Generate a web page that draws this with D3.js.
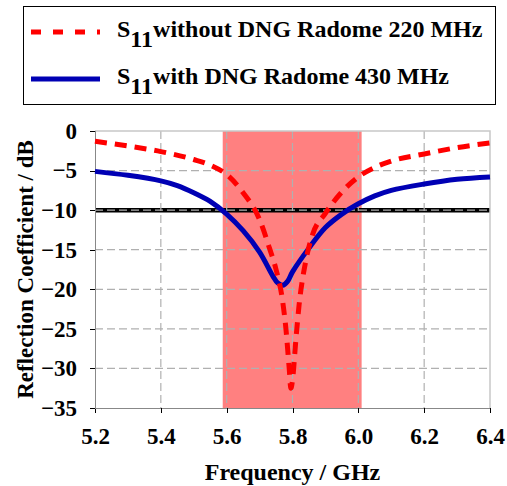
<!DOCTYPE html>
<meta charset="utf-8">
<style>
body { margin: 0; background: #fff; }
text { font-family: "Liberation Serif", "Times New Roman", Times, serif; font-weight: bold; fill: #000; }
.grid line { stroke: #b0b0b0; stroke-width: 1.2px; stroke-dasharray: 8,4; }
.axis path, .axis line { stroke: #888; shape-rendering: crispEdges; }
.axis text { font-size: 23px; font-family: "Liberation Serif", "Times New Roman", Times, serif; }
</style>
<body>
<script src="https://d3js.org/d3.v7.min.js"></script>
<script>

// frequencies (GHz) and S11 (dB)
var freqNoRadome = [5.20, 5.30, 5.40, 5.50, 5.55, 5.60, 5.65, 5.70, 5.73, 5.75, 5.77, 5.78, 5.79, 5.795,
                    5.80, 5.81, 5.82, 5.84, 5.86, 5.90, 5.95, 6.00, 6.05, 6.10, 6.20, 6.30, 6.40];
var s11NoRadome  = [-1.3, -1.9, -2.6, -3.6, -4.3, -5.5, -7.8, -11.2, -14.8, -17.5, -21.5, -25, -30, -32.5,
                    -31.5, -26.5, -22, -16.5, -13.2, -10.4, -7.7, -5.8, -4.6, -3.8, -2.9, -2.1, -1.5];

var freqRadome = [5.20, 5.30, 5.40, 5.45, 5.50, 5.55, 5.60, 5.65, 5.70, 5.74, 5.755, 5.77, 5.785, 5.80,
                  5.85, 5.90, 5.95, 6.00, 6.05, 6.10, 6.20, 6.30, 6.40];
var s11Radome  = [-5.1, -5.6, -6.3, -6.9, -7.8, -8.9, -10.5, -12.6, -15.3, -18.3, -19.2, -19.5, -19.0, -17.8,
                  -14.8, -12.2, -10.5, -9.2, -8.2, -7.5, -6.7, -6.1, -5.8];

var xTicks = [5.2, 5.4, 5.6, 5.8, 6.0, 6.2, 6.4];
var yTicks = [0, -5, -10, -15, -20, -25, -30, -35];
var band = [5.588, 6.01];      // shaded bandwidth
var threshold = -10;

var legendLabels = [
  {sub: "11", text: "without DNG Radome 220 MHz"},
  {sub: "11", text: "with DNG Radome 430 MHz"}
];

var margin = {top: 131, right: 17, bottom: 78, left: 95},
    width = 507 - margin.left - margin.right,
    height = 486 - margin.top - margin.bottom;

var svg = d3.select("body").append("svg")
    .attr("width", 507)
    .attr("height", 486);

var g = svg.append("g")
    .attr("transform", "translate(" + margin.left + "," + margin.top + ")");

var x = d3.scaleLinear().domain([5.2, 6.4]).range([0, width]);
var y = d3.scaleLinear().domain([-35, 0]).range([height, 0]);

// shaded band
g.append("rect")
    .attr("x", x(band[0]))
    .attr("y", 0)
    .attr("width", x(band[1]) - x(band[0]))
    .attr("height", height)
    .attr("fill", "#ff8080");

// -10 dB line
g.append("line")
    .attr("x1", 0).attr("x2", width)
    .attr("y1", y(threshold)).attr("y2", y(threshold))
    .attr("stroke", "#000")
    .attr("stroke-width", 4.5);

// grid
g.append("g").attr("class", "grid")
  .selectAll("line").data(xTicks.slice(1, -1)).enter().append("line")
    .attr("x1", function(d) { return x(d); }).attr("x2", function(d) { return x(d); })
    .attr("y1", 0).attr("y2", height);

g.append("g").attr("class", "grid")
  .selectAll("line").data(yTicks.slice(1, -1)).enter().append("line")
    .attr("x1", 0).attr("x2", width)
    .attr("y1", function(d) { return y(d); }).attr("y2", function(d) { return y(d); });

// plot frame top / right
g.append("path")
    .attr("d", "M0,0H" + width + "V" + height)
    .attr("fill", "none")
    .attr("stroke", "#c8c8c8")
    .attr("stroke-width", 1.5);

// axes
g.append("g")
    .attr("class", "axis")
    .attr("transform", "translate(0," + height + ")")
    .call(d3.axisBottom(x).tickValues(xTicks).tickFormat(d3.format(".1f")).tickSizeOuter(0).tickSize(5).tickPadding(15));

g.append("g")
    .attr("class", "axis")
    .call(d3.axisLeft(y).tickValues(yTicks).tickFormat(d3.format("d")).tickSizeOuter(0).tickSize(5).tickPadding(13));

g.selectAll(".axis text").style("fill", "#000");
g.selectAll(".axis .tick line").style("stroke", "#000");

// curves
var line = d3.line()
    .x(function(d) { return x(d[0]); })
    .y(function(d) { return y(d[1]); })
    .curve(d3.curveMonotoneX);

g.append("path")
    .datum(d3.zip(freqRadome, s11Radome))
    .attr("fill", "none")
    .attr("stroke", "#0000b4")
    .attr("stroke-width", 5)
    .attr("stroke-linejoin", "round")
    .attr("d", line.curve(d3.curveCatmullRom.alpha(0.5)));

g.append("path")
    .datum(d3.zip(freqNoRadome, s11NoRadome))
    .attr("fill", "none")
    .attr("stroke", "#ff0000")
    .attr("stroke-width", 5)
    .attr("stroke-dasharray", "12,8")
    .attr("d", line.curve(d3.curveMonotoneX));

// axis titles
svg.append("text")
    .attr("x", margin.left + width / 2)
    .attr("y", 480)
    .attr("text-anchor", "middle")
    .style("font-size", "24px")
    .text("Frequency / GHz");

svg.append("text")
    .attr("transform", "translate(33," + (margin.top + height / 2) + ") rotate(-90)")
    .attr("text-anchor", "middle")
    .style("font-size", "23px")
    .text("Reflection Coefficient / dB");

// legend
var legend = svg.append("g");
legend.append("rect")
    .attr("x", 23.5).attr("y", 6.5)
    .attr("width", 472).attr("height", 98)
    .attr("fill", "#fff")
    .attr("stroke", "#000")
    .attr("stroke-width", 1);

var styles = [
  {stroke: "#ff0000", dash: "10,12"},
  {stroke: "#0000b4", dash: null}
];

legendLabels.forEach(function(l, i) {
  var ly = 32 + i * 47;
  legend.append("line")
      .attr("x1", 31).attr("x2", 100)
      .attr("y1", ly).attr("y2", ly)
      .attr("stroke", styles[i].stroke)
      .attr("stroke-width", 5)
      .attr("stroke-dasharray", styles[i].dash);
  var t = legend.append("text")
      .attr("x", 117)
      .attr("y", ly + 5)
      .style("font-size", "24px");
  t.append("tspan").text("S");
  t.append("tspan").attr("dy", 10).text(l.sub);
  t.append("tspan").attr("dy", -10).text(l.text);
});

</script>
</body>
